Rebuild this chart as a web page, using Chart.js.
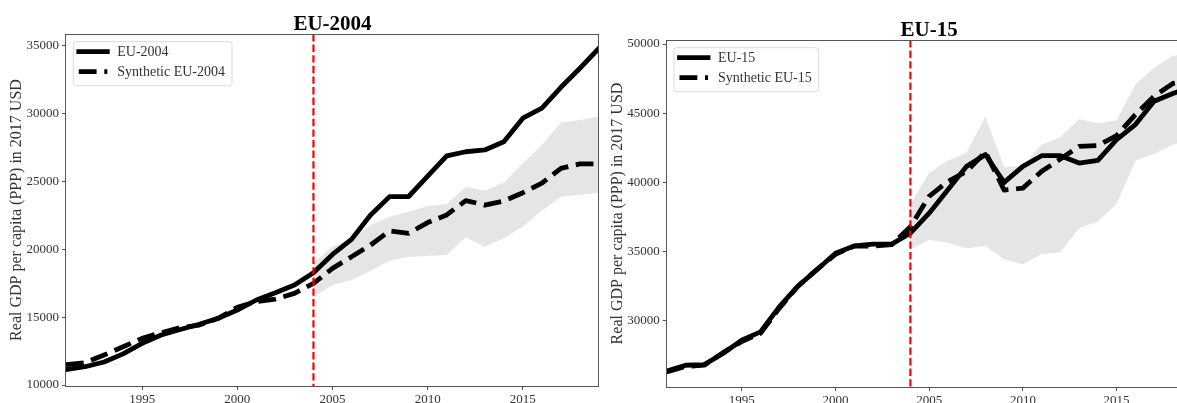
<!DOCTYPE html>
<html>
<head>
<meta charset="utf-8">
<script src="https://cdn.jsdelivr.net/npm/chart.js@4.4.1/dist/chart.umd.min.js"></script>
<style>
  html, body { margin: 0; padding: 0; background: #fff; overflow: hidden; }
  body { width: 1177px; height: 403px; position: relative; }
  #left { position: absolute; left: 0; top: 0; }
  #right { position: absolute; left: 600px; top: 0; }
</style>
</head>
<body>
<canvas id="left" width="600" height="403"></canvas>
<canvas id="right" width="600" height="403"></canvas>
<script>
// years shown on both panels
const years = [1991, 1992, 1993, 1994, 1995, 1996, 1997, 1998, 1999, 2000,
  2001, 2002, 2003, 2004, 2005, 2006, 2007, 2008, 2009, 2010,
  2011, 2012, 2013, 2014, 2015, 2016, 2017, 2018, 2019];
const bandYears = [2004, 2005, 2006, 2007, 2008, 2009, 2010, 2011,
  2012, 2013, 2014, 2015, 2016, 2017, 2018, 2019];
const treatmentYear = 2004;

// EU-2004 panel
const eu2004 = [11150, 11350, 11700, 12300, 13070, 13690, 14100, 14480, 14920, 15530,
  16270, 16800, 17370, 18280, 19630, 20740, 22540, 23890, 23900, 25410,
  26890, 27200, 27330, 27940, 29670, 30410, 31950, 33360, 34830];
const synthEu2004 = [11500, 11650, 12210, 12820, 13440, 13860, 14230, 14420, 14920, 15730,
  16150, 16340, 16760, 17500, 18600, 19460, 20320, 21360, 21190, 21980,
  22540, 23600, 23270, 23570, 24180, 24880, 25980, 26300, 26300];
const eu2004Upper = [19000, 20200, 20810, 21800, 22410, 22780, 23200, 23350,
  24620, 24330, 24920, 26350, 27700, 29350, 29540, 29790];
const eu2004Lower = [16510, 17370, 17740, 18430, 19170, 19460, 19510, 19590,
  20890, 20200, 20820, 21680, 22860, 23890, 24010, 24180];

// EU-15 panel
const eu15 = [26380, 26790, 26840, 27640, 28600, 29200, 31010, 32510, 33670, 34880,
  35410, 35540, 35540, 36330, 37780, 39470, 41160, 42010, 40000, 41160,
  41930, 41930, 41400, 41590, 43090, 44180, 45870, 46430, 46900];
const synthEu15 = [26300, 26700, 26800, 27700, 28500, 29100, 30900, 32500, 33700, 34800,
  35400, 35400, 35500, 36800, 39000, 40070, 40800, 42200, 39440, 39590,
  40800, 41690, 42610, 42660, 43380, 44900, 46230, 47150, 47400];
const eu15Upper = [38450, 40680, 41570, 42170, 44740, 41110, 41210, 42730,
  43260, 44590, 44250, 44490, 47080, 48290, 49130, 49400];
const eu15Lower = [35170, 35850, 35650, 35250, 35410, 34450, 34090, 34830,
  34960, 36700, 37170, 38460, 41570, 42080, 42730, 43100];

// tick labels
const xTicks = [1995, 2000, 2005, 2010, 2015];
const yTicksEu2004 = [10000, 15000, 20000, 25000, 30000, 35000];
const yTicksEu15 = [30000, 35000, 40000, 45000, 50000];

const yTitle = 'Real GDP per capita (PPP) in 2017 USD';
const serif = '"Liberation Serif", "DejaVu Serif", serif';
const lineW = 4.8;
const dashPat = [17.8, 7.7];

Chart.defaults.font.family = serif;

const pts = (xs, ys) => xs.map((x, i) => ({ x: x, y: ys[i] }));

// title, frame, y label, red line and legend
const decor = {
  id: 'decor',
  afterDatasetsDraw(chart) {
    const { ctx, chartArea: a, scales: { x } } = chart;
    const px = x.getPixelForValue(treatmentYear);
    ctx.save();
    ctx.strokeStyle = '#ff0000';
    ctx.lineWidth = 2.2;
    ctx.setLineDash([7.4, 3.2]);
    ctx.beginPath();
    ctx.moveTo(px, a.top);
    ctx.lineTo(px, a.bottom);
    ctx.stroke();
    ctx.restore();
  },
  afterDraw(chart, args, o) {
    const { ctx, chartArea: a } = chart;
    ctx.save();
    // frame
    ctx.strokeStyle = '#555';
    ctx.lineWidth = 1;
    ctx.strokeRect(Math.round(a.left) - 0.5, Math.round(a.top) + 0.5,
      Math.round(a.right - a.left), Math.round(a.bottom - a.top));
    // title
    ctx.fillStyle = '#000';
    ctx.font = 'bold 21px ' + serif;
    ctx.textAlign = 'center';
    ctx.textBaseline = 'alphabetic';
    ctx.fillText(o.title, (a.left + a.right) / 2, a.top - 4.5);
    // y title
    ctx.save();
    ctx.translate(a.left - 49, (a.top + a.bottom) / 2);
    ctx.rotate(-Math.PI / 2);
    ctx.fillStyle = '#333';
    ctx.font = '16px ' + serif;
    ctx.textBaseline = 'middle';
    ctx.fillText(yTitle, 0, 0);
    ctx.restore();
    // legend
    ctx.font = '14px ' + serif;
    const lx = a.left + 7.3, ly = a.top + 7.7;
    const tw = Math.max(...o.labels.map(t => ctx.measureText(t).width));
    const w = 44 + tw + 7, h = 44;
    ctx.beginPath();
    ctx.roundRect(lx, ly, w, h, 3);
    ctx.fillStyle = 'rgba(255,255,255,0.85)';
    ctx.fill();
    ctx.strokeStyle = '#d9d9d9';
    ctx.lineWidth = 1;
    ctx.stroke();
    o.labels.forEach((t, i) => {
      const yy = ly + 10 + i * 20;
      ctx.strokeStyle = '#000';
      ctx.lineWidth = lineW;
      ctx.beginPath();
      if (i === 0) {
        ctx.setLineDash([]);
        ctx.lineCap = 'square';
      } else {
        ctx.setLineDash(dashPat);
        ctx.lineCap = 'butt';
      }
      ctx.moveTo(lx + 5.5, yy);
      ctx.lineTo(lx + 34, yy);
      ctx.stroke();
      ctx.setLineDash([]);
      ctx.fillStyle = '#333';
      ctx.textAlign = 'left';
      ctx.textBaseline = 'middle';
      ctx.fillText(t, lx + 44, yy + 1);
    });
    ctx.restore();
  }
};

function makeChart(id, c) {
  return new Chart(document.getElementById(id), {
    type: 'line',
    data: {
      datasets: [
        {
          data: pts(years, c.actual),
          borderColor: '#000', borderWidth: lineW,
          borderCapStyle: 'square', borderJoinStyle: 'round',
          pointRadius: 0, fill: false, clip: 0
        },
        {
          data: pts(years, c.synth),
          borderColor: '#000', borderWidth: lineW, borderDash: dashPat,
          borderCapStyle: 'butt', borderJoinStyle: 'round',
          pointRadius: 0, fill: false, clip: 0
        },
        {
          data: pts(bandYears, c.lower),
          borderColor: 'rgba(0,0,0,0)', borderWidth: 0,
          pointRadius: 0, fill: false, clip: 0
        },
        {
          data: pts(bandYears, c.upper),
          borderColor: 'rgba(0,0,0,0)', borderWidth: 0,
          backgroundColor: '#e5e5e5',
          pointRadius: 0, fill: '-1', clip: 0
        }
      ]
    },
    options: {
      responsive: false,
      animation: false,
      events: [],
      layout: { padding: { left: 0, top: c.top, right: c.right, bottom: 0 } },
      plugins: {
        legend: { display: false },
        tooltip: { enabled: false },
        filler: { drawTime: 'beforeDatasetsDraw' },
        decor: { title: c.title, labels: c.labels }
      },
      scales: {
        x: {
          type: 'linear', min: 1991, max: 2019, bounds: 'data',
          afterBuildTicks: ax => { ax.ticks = xTicks.map(v => ({ value: v })); },
          afterFit: ax => { ax.height = c.xh; },
          border: { display: false },
          grid: { drawOnChartArea: false, drawTicks: true, tickLength: 4, color: '#555' },
          ticks: {
            autoSkip: false, maxRotation: 0, padding: 2, color: '#333',
            font: { family: serif, size: 13 },
            callback: v => String(v)
          }
        },
        y: {
          type: 'linear', min: c.ymin, max: c.ymax, bounds: 'data',
          afterBuildTicks: ax => { ax.ticks = c.yTicks.map(v => ({ value: v })); },
          afterFit: ax => { ax.width = c.yw; },
          border: { display: false },
          grid: { drawOnChartArea: false, drawTicks: true, tickLength: 4, color: '#555' },
          ticks: {
            autoSkip: false, padding: 3, color: '#333',
            font: { family: serif, size: 13 },
            callback: v => String(v)
          }
        }
      }
    },
    plugins: [decor]
  });
}

makeChart('left', {
  title: 'EU-2004', labels: ['EU-2004', 'Synthetic EU-2004'],
  actual: eu2004, synth: synthEu2004, upper: eu2004Upper, lower: eu2004Lower,
  yTicks: yTicksEu2004, ymin: 9930, ymax: 35880,
  top: 34, right: 1, yw: 66, xh: 17
});

makeChart('right', {
  title: 'EU-15', labels: ['EU-15', 'Synthetic EU-15'],
  actual: eu15, synth: synthEu15, upper: eu15Upper, lower: eu15Lower,
  yTicks: yTicksEu15, ymin: 25220, ymax: 50290,
  top: 40, right: 8.4, yw: 66.7, xh: 16
});
</script>
</body>
</html>
